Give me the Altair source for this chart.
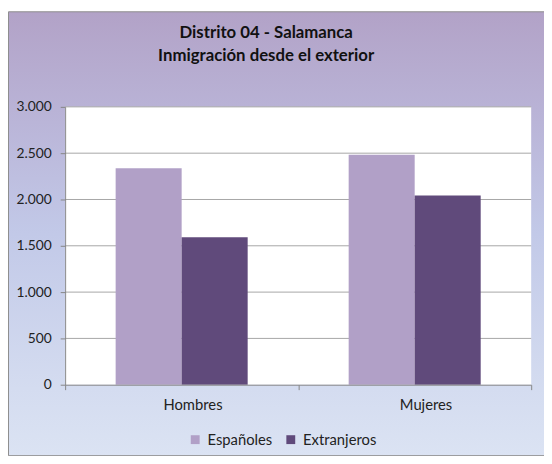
import altair as alt
import pandas as pd

categorias = ["Hombres", "Mujeres"]
series = ["Españoles", "Extranjeros"]
espanoles = [2337, 2482]
extranjeros = [1592, 2043]
y_ticks = [0, 500, 1000, 1500, 2000, 2500, 3000]
colores = ["#b1a0c7", "#604a7b"]
titulo = ["Distrito 04 - Salamanca", "Inmigración desde el exterior"]

rows = []
for i, c in enumerate(categorias):
    rows.append({"Sexo": c, "Origen": series[0], "Valor": espanoles[i]})
    rows.append({"Sexo": c, "Origen": series[1], "Valor": extranjeros[i]})
df = pd.DataFrame(rows)
grid_df = pd.DataFrame({"y": y_ticks[1:]})
bg_df = pd.DataFrame({"k": [0]})

W, H = 473, 282
PL, PT = 58, 97
TW, TH = 544, 448
FONT = "Lato"

grad = alt.LinearGradient(
    gradient="linear", x1=0, y1=0, x2=0, y2=1,
    stops=[
        alt.GradientStop(color="#b2a2c7", offset=0),
        alt.GradientStop(color="#bab5d8", offset=0.25),
        alt.GradientStop(color="#c2c9e8", offset=0.5),
        alt.GradientStop(color="#d4dcf0", offset=0.85),
        alt.GradientStop(color="#dbe3f3", offset=1),
    ],
)

yscale = alt.Scale(domain=[0, 3000])
yaxis = alt.Axis(
    title=None, values=y_ticks, grid=False,
    labelExpr="replace(format(datum.value, ','), ',', '.')",
    labelFont=FONT, labelFontSize=14, labelColor="#222",
    tickSize=5, tickColor="#868686", domainColor="#868686",
    labelPadding=9, zindex=1,
)

background = alt.Chart(bg_df).mark_rect(
    color=grad, stroke="#8c8c8c", strokeWidth=1
).encode(
    x=alt.value(-PL + 0.5), x2=alt.value(TW - PL + 3),
    y=alt.value(-PT + 0.5), y2=alt.value(TH - PT + 3),
)

plotbg = alt.Chart(bg_df).mark_rect(color="white").encode(
    x=alt.value(0), x2=alt.value(W), y=alt.value(0), y2=alt.value(H)
)

grid = alt.Chart(grid_df).mark_rule(color="#a6a6a6", strokeWidth=1).encode(
    y=alt.Y("y:Q", scale=yscale, axis=yaxis)
)

bars = alt.Chart(df).mark_bar().encode(
    x=alt.X(
        "Sexo:N", sort=categorias,
        scale=alt.Scale(paddingInner=0, paddingOuter=0),
        axis=alt.Axis(
            title=None, labelAngle=0, tickBand="extent", labelOffset=11,
            labelFont=FONT, labelFontSize=15, labelColor="#222",
            tickSize=5, tickColor="#868686", domainColor="#868686",
            labelPadding=8, zindex=1,
        ),
    ),
    xOffset=alt.XOffset("Origen:N", sort=series,
                        scale=alt.Scale(paddingInner=0, paddingOuter=0.765)),
    y=alt.Y("Valor:Q", scale=yscale, axis=yaxis),
    color=alt.Color(
        "Origen:N", sort=series,
        scale=alt.Scale(domain=series, range=colores),
        legend=alt.Legend(
            orient="none", legendX=124.5, legendY=330, direction="horizontal",
            title=None, symbolType="square", symbolSize=81, symbolStrokeWidth=0,
            labelFont=FONT, labelFontSize=15, labelColor="#222",
            columnPadding=11, labelOffset=5, symbolOpacity=1,
        ),
    ),
)

chart = alt.layer(background, plotbg, grid, bars).properties(
    width=W, height=H,
    autosize=alt.AutoSizeParams(type="none"),
    padding={"left": PL, "top": PT, "right": TW - PL - W, "bottom": TH - PT - H},
    title=alt.TitleParams(
        text=titulo, font=FONT, fontSize=17, fontWeight="bold", color="#111",
        anchor="middle", frame="group", dx=-32.5, offset=-54, lineHeight=23,
    ),
).configure_view(stroke=None)

chart.save("out.html", embed_options={"renderer": "svg", "actions": False})
